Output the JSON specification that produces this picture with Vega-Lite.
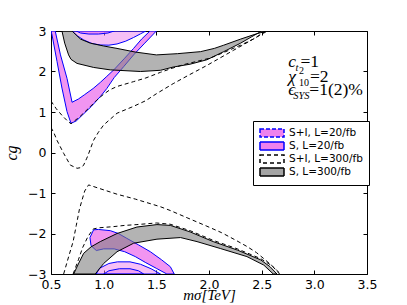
{
  "$schema": "https://vega.github.io/schema/vega-lite/v6.json",
  "width": 316,
  "height": 243,
  "autosize": "none",
  "padding": {"left": 51, "top": 31, "right": 40, "bottom": 31},
  "background": "white",
  "config": {"view": {"stroke": null}},
  "datasets": {
    "poly": [
      {"s":"S+I, L=20/fb","id":"P1","o":0,"x":0.70,"y":3.0},
      {"s":"S+I, L=20/fb","id":"P1","o":1,"x":0.75,"y":2.88},
      {"s":"S+I, L=20/fb","id":"P1","o":2,"x":0.81,"y":2.78},
      {"s":"S+I, L=20/fb","id":"P1","o":3,"x":0.89,"y":2.69},
      {"s":"S+I, L=20/fb","id":"P1","o":4,"x":0.968,"y":2.655},
      {"s":"S+I, L=20/fb","id":"P1","o":5,"x":1.05,"y":2.65},
      {"s":"S+I, L=20/fb","id":"P1","o":6,"x":1.127,"y":2.68},
      {"s":"S+I, L=20/fb","id":"P1","o":7,"x":1.21,"y":2.75},
      {"s":"S+I, L=20/fb","id":"P1","o":8,"x":1.284,"y":2.84},
      {"s":"S+I, L=20/fb","id":"P1","o":9,"x":1.35,"y":2.93},
      {"s":"S+I, L=20/fb","id":"P1","o":10,"x":1.40,"y":3.0},
      {"s":"S+I, L=20/fb","id":"P1","o":11,"x":0.70,"y":3.0},
      {"s":"S+I, L=20/fb","id":"P2","o":0,"x":0.93,"y":-3.0},
      {"s":"S+I, L=20/fb","id":"P2","o":1,"x":0.96,"y":-2.86},
      {"s":"S+I, L=20/fb","id":"P2","o":2,"x":1.05,"y":-2.74},
      {"s":"S+I, L=20/fb","id":"P2","o":3,"x":1.13,"y":-2.70},
      {"s":"S+I, L=20/fb","id":"P2","o":4,"x":1.25,"y":-2.70},
      {"s":"S+I, L=20/fb","id":"P2","o":5,"x":1.35,"y":-2.76},
      {"s":"S+I, L=20/fb","id":"P2","o":6,"x":1.45,"y":-2.87},
      {"s":"S+I, L=20/fb","id":"P2","o":7,"x":1.54,"y":-3.0},
      {"s":"S+I, L=20/fb","id":"P2","o":8,"x":0.93,"y":-3.0},
      {"s":"S+I, L=20/fb","id":"P3","o":0,"x":1.0,"y":-3.0},
      {"s":"S+I, L=20/fb","id":"P3","o":1,"x":1.05,"y":-2.92},
      {"s":"S+I, L=20/fb","id":"P3","o":2,"x":1.15,"y":-2.87},
      {"s":"S+I, L=20/fb","id":"P3","o":3,"x":1.25,"y":-2.87},
      {"s":"S+I, L=20/fb","id":"P3","o":4,"x":1.33,"y":-2.92},
      {"s":"S+I, L=20/fb","id":"P3","o":5,"x":1.38,"y":-3.0},
      {"s":"S+I, L=20/fb","id":"P3","o":6,"x":1.0,"y":-3.0},

      {"s":"S, L=20/fb","id":"V1","o":0,"x":0.5,"y":3.0},
      {"s":"S, L=20/fb","id":"V1","o":1,"x":0.51,"y":2.9},
      {"s":"S, L=20/fb","id":"V1","o":2,"x":0.557,"y":2.25},
      {"s":"S, L=20/fb","id":"V1","o":3,"x":0.604,"y":1.59},
      {"s":"S, L=20/fb","id":"V1","o":4,"x":0.652,"y":1.01},
      {"s":"S, L=20/fb","id":"V1","o":5,"x":0.69,"y":0.72},
      {"s":"S, L=20/fb","id":"V1","o":6,"x":0.74,"y":0.78},
      {"s":"S, L=20/fb","id":"V1","o":7,"x":0.80,"y":0.93},
      {"s":"S, L=20/fb","id":"V1","o":8,"x":0.88,"y":1.13},
      {"s":"S, L=20/fb","id":"V1","o":9,"x":0.968,"y":1.38},
      {"s":"S, L=20/fb","id":"V1","o":10,"x":1.03,"y":1.58},
      {"s":"S, L=20/fb","id":"V1","o":11,"x":1.1,"y":1.85},
      {"s":"S, L=20/fb","id":"V1","o":12,"x":1.19,"y":2.12},
      {"s":"S, L=20/fb","id":"V1","o":13,"x":1.284,"y":2.41},
      {"s":"S, L=20/fb","id":"V1","o":14,"x":1.39,"y":2.7},
      {"s":"S, L=20/fb","id":"V1","o":15,"x":1.5,"y":3.0},
      {"s":"S, L=20/fb","id":"V1","o":16,"x":1.44,"y":3.0},
      {"s":"S, L=20/fb","id":"V1","o":17,"x":1.36,"y":2.8},
      {"s":"S, L=20/fb","id":"V1","o":18,"x":1.284,"y":2.57},
      {"s":"S, L=20/fb","id":"V1","o":19,"x":1.2,"y":2.33},
      {"s":"S, L=20/fb","id":"V1","o":20,"x":1.1,"y":2.05},
      {"s":"S, L=20/fb","id":"V1","o":21,"x":1.03,"y":1.88},
      {"s":"S, L=20/fb","id":"V1","o":22,"x":0.968,"y":1.73},
      {"s":"S, L=20/fb","id":"V1","o":23,"x":0.9,"y":1.58},
      {"s":"S, L=20/fb","id":"V1","o":24,"x":0.82,"y":1.43},
      {"s":"S, L=20/fb","id":"V1","o":25,"x":0.76,"y":1.32},
      {"s":"S, L=20/fb","id":"V1","o":26,"x":0.70,"y":1.24},
      {"s":"S, L=20/fb","id":"V1","o":27,"x":0.652,"y":1.83},
      {"s":"S, L=20/fb","id":"V1","o":28,"x":0.59,"y":2.41},
      {"s":"S, L=20/fb","id":"V1","o":29,"x":0.54,"y":3.0},
      {"s":"S, L=20/fb","id":"V1","o":30,"x":0.5,"y":3.0},
      {"s":"S, L=20/fb","id":"V2","o":0,"x":0.74,"y":3.0},
      {"s":"S, L=20/fb","id":"V2","o":1,"x":0.78,"y":2.95},
      {"s":"S, L=20/fb","id":"V2","o":2,"x":0.86,"y":2.925},
      {"s":"S, L=20/fb","id":"V2","o":3,"x":0.95,"y":2.925},
      {"s":"S, L=20/fb","id":"V2","o":4,"x":1.04,"y":2.95},
      {"s":"S, L=20/fb","id":"V2","o":5,"x":1.1,"y":3.0},
      {"s":"S, L=20/fb","id":"V2","o":6,"x":0.74,"y":3.0},
      {"s":"S, L=20/fb","id":"V3","o":0,"x":0.904,"y":-1.91},
      {"s":"S, L=20/fb","id":"V3","o":1,"x":0.95,"y":-1.9},
      {"s":"S, L=20/fb","id":"V3","o":2,"x":1.063,"y":-1.93},
      {"s":"S, L=20/fb","id":"V3","o":3,"x":1.14,"y":-2.0},
      {"s":"S, L=20/fb","id":"V3","o":4,"x":1.22,"y":-2.12},
      {"s":"S, L=20/fb","id":"V3","o":5,"x":1.33,"y":-2.28},
      {"s":"S, L=20/fb","id":"V3","o":6,"x":1.443,"y":-2.45},
      {"s":"S, L=20/fb","id":"V3","o":7,"x":1.55,"y":-2.65},
      {"s":"S, L=20/fb","id":"V3","o":8,"x":1.633,"y":-2.82},
      {"s":"S, L=20/fb","id":"V3","o":9,"x":1.67,"y":-3.0},
      {"s":"S, L=20/fb","id":"V3","o":10,"x":1.6,"y":-3.0},
      {"s":"S, L=20/fb","id":"V3","o":11,"x":1.5,"y":-2.86},
      {"s":"S, L=20/fb","id":"V3","o":12,"x":1.4,"y":-2.72},
      {"s":"S, L=20/fb","id":"V3","o":13,"x":1.3,"y":-2.57},
      {"s":"S, L=20/fb","id":"V3","o":14,"x":1.2,"y":-2.45},
      {"s":"S, L=20/fb","id":"V3","o":15,"x":1.1,"y":-2.38},
      {"s":"S, L=20/fb","id":"V3","o":16,"x":1.0,"y":-2.38},
      {"s":"S, L=20/fb","id":"V3","o":17,"x":0.93,"y":-2.42},
      {"s":"S, L=20/fb","id":"V3","o":18,"x":0.88,"y":-2.3},
      {"s":"S, L=20/fb","id":"V3","o":19,"x":0.87,"y":-2.1},
      {"s":"S, L=20/fb","id":"V3","o":20,"x":0.904,"y":-1.91},

      {"s":"S, L=300/fb","id":"G1","o":0,"x":0.70,"y":3.0},
      {"s":"S, L=300/fb","id":"G1","o":1,"x":0.78,"y":2.8},
      {"s":"S, L=300/fb","id":"G1","o":2,"x":0.873,"y":2.70},
      {"s":"S, L=300/fb","id":"G1","o":3,"x":1.0,"y":2.63},
      {"s":"S, L=300/fb","id":"G1","o":4,"x":1.127,"y":2.57},
      {"s":"S, L=300/fb","id":"G1","o":5,"x":1.3,"y":2.48},
      {"s":"S, L=300/fb","id":"G1","o":6,"x":1.5,"y":2.41},
      {"s":"S, L=300/fb","id":"G1","o":7,"x":1.7,"y":2.44},
      {"s":"S, L=300/fb","id":"G1","o":8,"x":1.92,"y":2.49},
      {"s":"S, L=300/fb","id":"G1","o":9,"x":2.05,"y":2.57},
      {"s":"S, L=300/fb","id":"G1","o":10,"x":2.14,"y":2.65},
      {"s":"S, L=300/fb","id":"G1","o":11,"x":2.3,"y":2.8},
      {"s":"S, L=300/fb","id":"G1","o":12,"x":2.45,"y":2.93},
      {"s":"S, L=300/fb","id":"G1","o":13,"x":2.55,"y":3.0},
      {"s":"S, L=300/fb","id":"G1","o":14,"x":2.50,"y":3.0},
      {"s":"S, L=300/fb","id":"G1","o":15,"x":2.40,"y":2.85},
      {"s":"S, L=300/fb","id":"G1","o":16,"x":2.30,"y":2.70},
      {"s":"S, L=300/fb","id":"G1","o":17,"x":2.14,"y":2.49},
      {"s":"S, L=300/fb","id":"G1","o":18,"x":1.98,"y":2.29},
      {"s":"S, L=300/fb","id":"G1","o":19,"x":1.82,"y":2.18},
      {"s":"S, L=300/fb","id":"G1","o":20,"x":1.66,"y":2.11},
      {"s":"S, L=300/fb","id":"G1","o":21,"x":1.54,"y":2.03},
      {"s":"S, L=300/fb","id":"G1","o":22,"x":1.35,"y":2.0},
      {"s":"S, L=300/fb","id":"G1","o":23,"x":1.063,"y":2.04},
      {"s":"S, L=300/fb","id":"G1","o":24,"x":0.905,"y":2.10},
      {"s":"S, L=300/fb","id":"G1","o":25,"x":0.747,"y":2.20},
      {"s":"S, L=300/fb","id":"G1","o":26,"x":0.69,"y":2.3},
      {"s":"S, L=300/fb","id":"G1","o":27,"x":0.667,"y":2.41},
      {"s":"S, L=300/fb","id":"G1","o":28,"x":0.63,"y":2.7},
      {"s":"S, L=300/fb","id":"G1","o":29,"x":0.604,"y":3.0},
      {"s":"S, L=300/fb","id":"G1","o":30,"x":0.70,"y":3.0},
      {"s":"S, L=300/fb","id":"G2","o":0,"x":0.715,"y":-3.0},
      {"s":"S, L=300/fb","id":"G2","o":1,"x":0.76,"y":-2.75},
      {"s":"S, L=300/fb","id":"G2","o":2,"x":0.81,"y":-2.49},
      {"s":"S, L=300/fb","id":"G2","o":3,"x":0.88,"y":-2.33},
      {"s":"S, L=300/fb","id":"G2","o":4,"x":0.968,"y":-2.2},
      {"s":"S, L=300/fb","id":"G2","o":5,"x":1.127,"y":-2.0},
      {"s":"S, L=300/fb","id":"G2","o":6,"x":1.316,"y":-1.84},
      {"s":"S, L=300/fb","id":"G2","o":7,"x":1.506,"y":-1.78},
      {"s":"S, L=300/fb","id":"G2","o":8,"x":1.633,"y":-1.8},
      {"s":"S, L=300/fb","id":"G2","o":9,"x":1.82,"y":-1.96},
      {"s":"S, L=300/fb","id":"G2","o":10,"x":2.04,"y":-2.2},
      {"s":"S, L=300/fb","id":"G2","o":11,"x":2.27,"y":-2.41},
      {"s":"S, L=300/fb","id":"G2","o":12,"x":2.49,"y":-2.65},
      {"s":"S, L=300/fb","id":"G2","o":13,"x":2.58,"y":-2.82},
      {"s":"S, L=300/fb","id":"G2","o":14,"x":2.645,"y":-3.0},
      {"s":"S, L=300/fb","id":"G2","o":15,"x":2.61,"y":-3.0},
      {"s":"S, L=300/fb","id":"G2","o":16,"x":2.52,"y":-2.78},
      {"s":"S, L=300/fb","id":"G2","o":17,"x":2.36,"y":-2.57},
      {"s":"S, L=300/fb","id":"G2","o":18,"x":2.107,"y":-2.37},
      {"s":"S, L=300/fb","id":"G2","o":19,"x":1.886,"y":-2.2},
      {"s":"S, L=300/fb","id":"G2","o":20,"x":1.73,"y":-2.10},
      {"s":"S, L=300/fb","id":"G2","o":21,"x":1.506,"y":-2.14},
      {"s":"S, L=300/fb","id":"G2","o":22,"x":1.284,"y":-2.24},
      {"s":"S, L=300/fb","id":"G2","o":23,"x":1.127,"y":-2.45},
      {"s":"S, L=300/fb","id":"G2","o":24,"x":1.0,"y":-2.74},
      {"s":"S, L=300/fb","id":"G2","o":25,"x":0.92,"y":-3.0},
      {"s":"S, L=300/fb","id":"G2","o":26,"x":0.715,"y":-3.0},

      {"s":"S+I, L=300/fb","id":"D1","o":0,"x":0.5,"y":1.27},
      {"s":"S+I, L=300/fb","id":"D1","o":1,"x":0.55,"y":1.08},
      {"s":"S+I, L=300/fb","id":"D1","o":2,"x":0.61,"y":0.9},
      {"s":"S+I, L=300/fb","id":"D1","o":3,"x":0.66,"y":0.77},
      {"s":"S+I, L=300/fb","id":"D1","o":4,"x":0.69,"y":0.71},
      {"s":"S+I, L=300/fb","id":"D1","o":5,"x":0.78,"y":0.9},
      {"s":"S+I, L=300/fb","id":"D1","o":6,"x":0.86,"y":1.1},
      {"s":"S+I, L=300/fb","id":"D1","o":7,"x":0.937,"y":1.30},
      {"s":"S+I, L=300/fb","id":"D1","o":8,"x":1.0,"y":1.44},
      {"s":"S+I, L=300/fb","id":"D1","o":9,"x":1.06,"y":1.55},
      {"s":"S+I, L=300/fb","id":"D1","o":10,"x":1.127,"y":1.63},
      {"s":"S+I, L=300/fb","id":"D1","o":11,"x":1.284,"y":1.75},
      {"s":"S+I, L=300/fb","id":"D1","o":12,"x":1.4,"y":1.84},
      {"s":"S+I, L=300/fb","id":"D1","o":13,"x":1.54,"y":1.98},
      {"s":"S+I, L=300/fb","id":"D1","o":14,"x":1.65,"y":2.08},
      {"s":"S+I, L=300/fb","id":"D1","o":15,"x":1.76,"y":2.17},
      {"s":"S+I, L=300/fb","id":"D1","o":16,"x":2.01,"y":2.33},
      {"s":"S+I, L=300/fb","id":"D1","o":17,"x":2.15,"y":2.48},
      {"s":"S+I, L=300/fb","id":"D1","o":18,"x":2.30,"y":2.65},
      {"s":"S+I, L=300/fb","id":"D1","o":19,"x":2.42,"y":2.8},
      {"s":"S+I, L=300/fb","id":"D1","o":20,"x":2.52,"y":2.95},
      {"s":"S+I, L=300/fb","id":"D1","o":21,"x":2.56,"y":3.0},
      {"s":"S+I, L=300/fb","id":"D2","o":0,"x":0.5,"y":0.62},
      {"s":"S+I, L=300/fb","id":"D2","o":1,"x":0.53,"y":0.47},
      {"s":"S+I, L=300/fb","id":"D2","o":2,"x":0.557,"y":0.30},
      {"s":"S+I, L=300/fb","id":"D2","o":3,"x":0.62,"y":-0.02},
      {"s":"S+I, L=300/fb","id":"D2","o":4,"x":0.683,"y":-0.31},
      {"s":"S+I, L=300/fb","id":"D2","o":5,"x":0.747,"y":-0.39},
      {"s":"S+I, L=300/fb","id":"D2","o":6,"x":0.79,"y":-0.37},
      {"s":"S+I, L=300/fb","id":"D2","o":7,"x":0.81,"y":-0.31},
      {"s":"S+I, L=300/fb","id":"D2","o":8,"x":0.84,"y":-0.14},
      {"s":"S+I, L=300/fb","id":"D2","o":9,"x":0.857,"y":-0.03},
      {"s":"S+I, L=300/fb","id":"D2","o":10,"x":0.904,"y":0.3},
      {"s":"S+I, L=300/fb","id":"D2","o":11,"x":0.95,"y":0.5},
      {"s":"S+I, L=300/fb","id":"D2","o":12,"x":1.0,"y":0.68},
      {"s":"S+I, L=300/fb","id":"D2","o":13,"x":1.127,"y":0.97},
      {"s":"S+I, L=300/fb","id":"D2","o":14,"x":1.284,"y":1.14},
      {"s":"S+I, L=300/fb","id":"D2","o":15,"x":1.4,"y":1.28},
      {"s":"S+I, L=300/fb","id":"D2","o":16,"x":1.5,"y":1.45},
      {"s":"S+I, L=300/fb","id":"D2","o":17,"x":1.66,"y":1.7},
      {"s":"S+I, L=300/fb","id":"D2","o":18,"x":1.8,"y":1.9},
      {"s":"S+I, L=300/fb","id":"D2","o":19,"x":1.98,"y":2.15},
      {"s":"S+I, L=300/fb","id":"D2","o":20,"x":2.23,"y":2.52},
      {"s":"S+I, L=300/fb","id":"D2","o":21,"x":2.42,"y":2.8},
      {"s":"S+I, L=300/fb","id":"D2","o":22,"x":2.54,"y":3.0},
      {"s":"S+I, L=300/fb","id":"D3","o":0,"x":0.62,"y":-3.0},
      {"s":"S+I, L=300/fb","id":"D3","o":1,"x":0.67,"y":-2.55},
      {"s":"S+I, L=300/fb","id":"D3","o":2,"x":0.71,"y":-2.2},
      {"s":"S+I, L=300/fb","id":"D3","o":3,"x":0.74,"y":-1.8},
      {"s":"S+I, L=300/fb","id":"D3","o":4,"x":0.77,"y":-1.4},
      {"s":"S+I, L=300/fb","id":"D3","o":5,"x":0.794,"y":-1.18},
      {"s":"S+I, L=300/fb","id":"D3","o":6,"x":0.82,"y":-0.95},
      {"s":"S+I, L=300/fb","id":"D3","o":7,"x":0.857,"y":-0.8},
      {"s":"S+I, L=300/fb","id":"D3","o":8,"x":0.95,"y":-0.88},
      {"s":"S+I, L=300/fb","id":"D3","o":9,"x":1.127,"y":-1.03},
      {"s":"S+I, L=300/fb","id":"D3","o":10,"x":1.3,"y":-1.15},
      {"s":"S+I, L=300/fb","id":"D3","o":11,"x":1.54,"y":-1.34},
      {"s":"S+I, L=300/fb","id":"D3","o":12,"x":1.63,"y":-1.43},
      {"s":"S+I, L=300/fb","id":"D3","o":13,"x":1.8,"y":-1.62},
      {"s":"S+I, L=300/fb","id":"D3","o":14,"x":1.98,"y":-1.82},
      {"s":"S+I, L=300/fb","id":"D3","o":15,"x":2.12,"y":-1.98},
      {"s":"S+I, L=300/fb","id":"D3","o":16,"x":2.25,"y":-2.16},
      {"s":"S+I, L=300/fb","id":"D3","o":17,"x":2.36,"y":-2.32},
      {"s":"S+I, L=300/fb","id":"D3","o":18,"x":2.45,"y":-2.47},
      {"s":"S+I, L=300/fb","id":"D3","o":19,"x":2.52,"y":-2.62},
      {"s":"S+I, L=300/fb","id":"D3","o":20,"x":2.6,"y":-2.8},
      {"s":"S+I, L=300/fb","id":"D3","o":21,"x":2.68,"y":-3.0},
      {"s":"S+I, L=300/fb","id":"D4","o":0,"x":0.71,"y":-3.0},
      {"s":"S+I, L=300/fb","id":"D4","o":1,"x":0.76,"y":-2.65},
      {"s":"S+I, L=300/fb","id":"D4","o":2,"x":0.80,"y":-2.35},
      {"s":"S+I, L=300/fb","id":"D4","o":3,"x":0.85,"y":-2.08},
      {"s":"S+I, L=300/fb","id":"D4","o":4,"x":0.9,"y":-1.89},
      {"s":"S+I, L=300/fb","id":"D4","o":5,"x":0.95,"y":-1.86},
      {"s":"S+I, L=300/fb","id":"D4","o":6,"x":1.094,"y":-1.83},
      {"s":"S+I, L=300/fb","id":"D4","o":7,"x":1.2,"y":-1.8},
      {"s":"S+I, L=300/fb","id":"D4","o":8,"x":1.316,"y":-1.78},
      {"s":"S+I, L=300/fb","id":"D4","o":9,"x":1.5,"y":-1.74},
      {"s":"S+I, L=300/fb","id":"D4","o":10,"x":1.63,"y":-1.77},
      {"s":"S+I, L=300/fb","id":"D4","o":11,"x":1.82,"y":-1.93},
      {"s":"S+I, L=300/fb","id":"D4","o":12,"x":2.04,"y":-2.17},
      {"s":"S+I, L=300/fb","id":"D4","o":13,"x":2.27,"y":-2.38},
      {"s":"S+I, L=300/fb","id":"D4","o":14,"x":2.49,"y":-2.62},
      {"s":"S+I, L=300/fb","id":"D4","o":15,"x":2.6,"y":-2.8},
      {"s":"S+I, L=300/fb","id":"D4","o":16,"x":2.67,"y":-3.0}
    ]
  },
  "layer": [
    {
      "data": {"name": "poly"},
      "transform": [{"filter": "datum.s === 'S+I, L=20/fb'"}],
      "mark": {"type": "line", "fillOpacity": 0.5, "strokeWidth": 1, "clip": true},
      "encoding": {
        "x": {"field": "x", "type": "quantitative",
          "scale": {"domain": [0.5, 3.5], "nice": false, "zero": false},
          "axis": {"orient": "bottom", "values": [0.5, 1, 1.5, 2, 2.5, 3, 3.5], "format": ".1f", "title": "mσ[TeV]",
            "grid": false, "tickSize": -4, "tickColor": "black", "domainColor": "black", "labelPadding": 8,
            "labelFlush": false, "labelOverlap": false, "labelFont": "DejaVu Sans", "labelFontSize": 12.5, "labelColor": "black",
            "titleFont": "Liberation Serif", "titleFontStyle": "italic", "titleFontWeight": "normal", "titleFontSize": 15, "titleColor": "black", "titlePadding": -3}},
        "y": {"field": "y", "type": "quantitative",
          "scale": {"domain": [-3, 3], "nice": false, "zero": false},
          "axis": {"orient": "left", "values": [-3, -2, -1, 0, 1, 2, 3], "format": "d", "title": "cg",
            "grid": false, "tickSize": -4, "tickColor": "black", "domainColor": "black", "labelPadding": 9,
            "labelFlush": false, "labelOverlap": false, "labelFont": "DejaVu Sans", "labelFontSize": 12.5, "labelColor": "black",
            "titleFont": "Liberation Serif", "titleFontStyle": "italic", "titleFontWeight": "normal", "titleFontSize": 16, "titleColor": "black", "titlePadding": 8}},
        "detail": {"field": "id"},
        "order": {"field": "o", "type": "quantitative"},
        "fill": {"field": "s", "type": "nominal",
          "scale": {"domain": ["S+I, L=20/fb", "S, L=20/fb", "S+I, L=300/fb", "S, L=300/fb"], "range": ["violet", "violet", "white", "#a4a4a4"]},
          "legend": {"title": null, "orient": "none", "legendX": 202, "legendY": 90,
            "padding": 6, "strokeColor": "black", "fillColor": "white", "cornerRadius": 0,
            "symbolType": "M-1,-0.8H3.8V0.8H-1Z", "symbolSize": 100, "symbolStrokeWidth": 1.5,
            "labelFont": "DejaVu Sans", "labelFontSize": 10.5, "labelColor": "black", "labelOffset": 18, "rowPadding": -3,
            "encode": {"symbols": {"update": {
              "fill": {"scale": "fill", "field": "value"},
              "stroke": {"scale": "stroke", "field": "value"},
              "strokeDash": {"scale": "strokeDash", "field": "value"},
              "fillOpacity": {"value": 1},
              "opacity": {"value": 1}}}}}},
        "stroke": {"field": "s", "type": "nominal",
          "scale": {"domain": ["S+I, L=20/fb", "S, L=20/fb", "S+I, L=300/fb", "S, L=300/fb"], "range": ["blue", "blue", "black", "black"]},
          "legend": null}
      }
    },
    {
      "data": {"name": "poly"},
      "transform": [{"filter": "datum.s === 'S, L=20/fb'"}],
      "mark": {"type": "line", "fillOpacity": 0.85, "strokeWidth": 1, "clip": true},
      "encoding": {
        "x": {"field": "x", "type": "quantitative", "axis": null},
        "y": {"field": "y", "type": "quantitative", "axis": null},
        "detail": {"field": "id"},
        "order": {"field": "o", "type": "quantitative"},
        "fill": {"field": "s", "type": "nominal"},
        "stroke": {"field": "s", "type": "nominal", "legend": null}
      }
    },
    {
      "data": {"name": "poly"},
      "transform": [{"filter": "datum.s === 'S, L=300/fb'"}],
      "mark": {"type": "line", "fill": "#808080", "fillOpacity": 0.6, "strokeWidth": 1, "clip": true},
      "encoding": {
        "x": {"field": "x", "type": "quantitative", "axis": null},
        "y": {"field": "y", "type": "quantitative", "axis": null},
        "detail": {"field": "id"},
        "order": {"field": "o", "type": "quantitative"},
        "stroke": {"field": "s", "type": "nominal", "legend": null}
      }
    },
    {
      "data": {"name": "poly"},
      "transform": [{"filter": "datum.s === 'S+I, L=300/fb'"}],
      "mark": {"type": "line", "strokeWidth": 1, "clip": true},
      "encoding": {
        "x": {"field": "x", "type": "quantitative",
          "axis": {"orient": "top", "values": [0.5, 1, 1.5, 2, 2.5, 3, 3.5], "labels": false, "title": null, "grid": false,
            "tickSize": -4, "tickColor": "black", "domainColor": "black"}},
        "y": {"field": "y", "type": "quantitative",
          "axis": {"orient": "right", "values": [-3, -2, -1, 0, 1, 2, 3], "labels": false, "title": null, "grid": false,
            "tickSize": -4, "tickColor": "black", "domainColor": "black"}},
        "detail": {"field": "id"},
        "order": {"field": "o", "type": "quantitative"},
        "stroke": {"field": "s", "type": "nominal", "legend": null},
        "strokeDash": {"field": "s", "type": "nominal",
          "scale": {"domain": ["S+I, L=20/fb", "S, L=20/fb", "S+I, L=300/fb", "S, L=300/fb"], "range": [[4, 2], [1, 0], [4, 3], [1, 0]]},
          "legend": null}
      }
    },
    {
      "data": {"values": [
        {"t": "c", "x": 2.753, "y": 2.112},
        {"t": "χ", "x": 2.753, "y": 1.742},
        {"t": "ϵ", "x": 2.753, "y": 1.414}
      ]},
      "mark": {"type": "text", "align": "left", "baseline": "alphabetic", "font": "Liberation Serif", "fontStyle": "italic", "fontSize": 17.5, "color": "black"},
      "encoding": {
        "x": {"field": "x", "type": "quantitative", "axis": null},
        "y": {"field": "y", "type": "quantitative", "axis": null},
        "text": {"field": "t"}
      }
    },
    {
      "data": {"values": [
        {"t": "t", "x": 2.822, "y": 2.02},
        {"t": "SYS", "x": 2.8, "y": 1.32}
      ]},
      "mark": {"type": "text", "align": "left", "baseline": "alphabetic", "font": "Liberation Serif", "fontStyle": "italic", "fontSize": 10.5, "color": "black"},
      "encoding": {
        "x": {"field": "x", "type": "quantitative", "axis": null},
        "y": {"field": "y", "type": "quantitative", "axis": null},
        "text": {"field": "t"}
      }
    },
    {
      "data": {"values": [
        {"t": "2", "x": 2.855, "y": 1.93},
        {"t": "10", "x": 2.855, "y": 1.65}
      ]},
      "mark": {"type": "text", "align": "left", "baseline": "alphabetic", "font": "Liberation Serif", "fontSize": 10, "color": "black"},
      "encoding": {
        "x": {"field": "x", "type": "quantitative", "axis": null},
        "y": {"field": "y", "type": "quantitative", "axis": null},
        "text": {"field": "t"}
      }
    },
    {
      "data": {"values": [
        {"t": "=1", "x": 2.868, "y": 2.112},
        {"t": "=2", "x": 2.958, "y": 1.742},
        {"t": "=1(2)%", "x": 2.952, "y": 1.414}
      ]},
      "mark": {"type": "text", "align": "left", "baseline": "alphabetic", "font": "Liberation Serif", "fontSize": 17.5, "color": "black"},
      "encoding": {
        "x": {"field": "x", "type": "quantitative", "axis": null},
        "y": {"field": "y", "type": "quantitative", "axis": null},
        "text": {"field": "t"}
      }
    }
  ],
  "resolve": {"axis": {"x": "independent", "y": "independent"}}
}
